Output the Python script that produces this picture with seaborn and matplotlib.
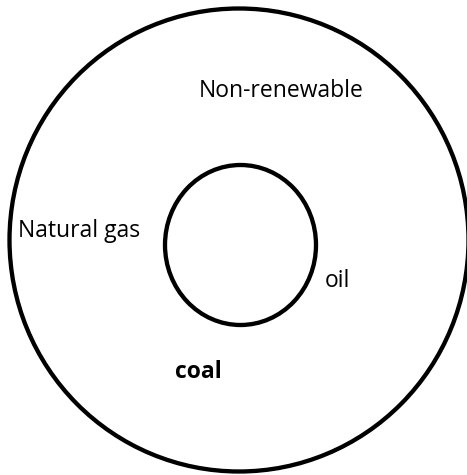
import matplotlib
matplotlib.use('Agg')
import matplotlib.pyplot as plt
from matplotlib.patches import Ellipse
import seaborn as sns

# Diagram contents (pixel coordinates of the 467x475 canvas)
rings = ['outer', 'inner']
ring_x = [239, 240.5]
ring_y = [240, 245]
ring_w = [459, 151]
ring_h = [463, 160]

labels = ['Non-renewable', 'Natural gas', 'oil', 'coal']
label_x = [199, 18, 325, 175]
label_y = [97, 237, 287, 378]  # baselines
label_bold = [False, False, False, True]

sns.set_style('white')
plt.rcParams['font.family'] = ['Open Sans', 'DejaVu Sans']

fig = plt.figure(figsize=(4.67, 4.75), dpi=100)
ax = fig.add_axes([0, 0, 1, 1])
ax.set_xlim(0, 467)
ax.set_ylim(475, 0)
ax.axis('off')

for x, y, w, h in zip(ring_x, ring_y, ring_w, ring_h):
    ax.add_patch(Ellipse((x, y), w, h, fill=False, edgecolor='black', linewidth=3.1))

for i, text in enumerate(labels):
    ax.text(label_x[i], label_y[i], text, fontsize=16.5, ha='left', va='baseline',
            fontweight='bold' if label_bold[i] else 'normal', color='black')

fig.savefig('out.png', dpi=100, facecolor='white')
